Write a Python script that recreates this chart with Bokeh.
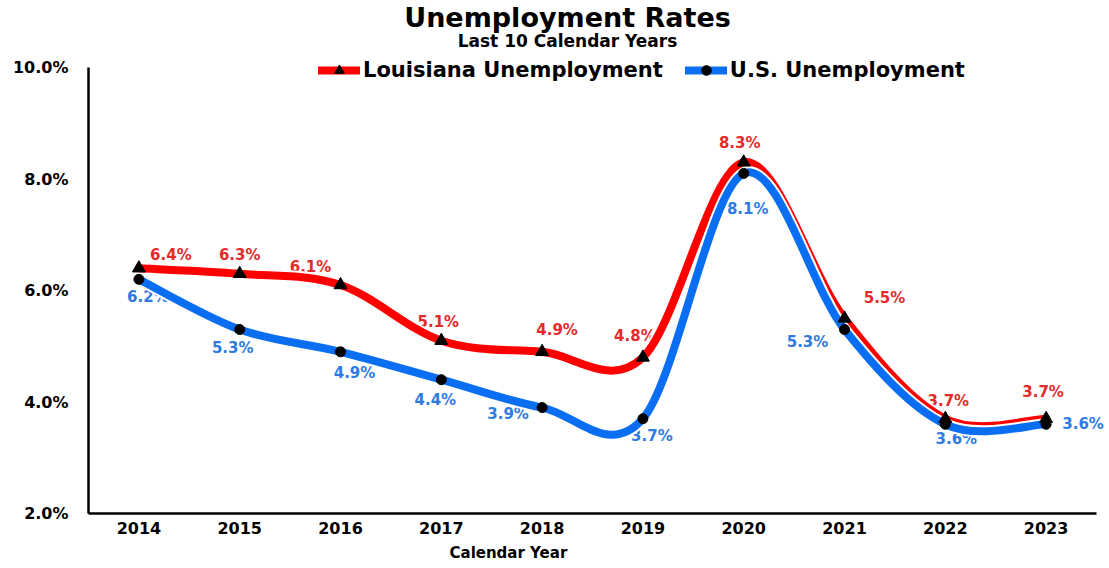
import numpy as np
from bokeh.plotting import figure
from bokeh.models import (Range1d, FixedTicker, Label, Legend, LegendItem,
                          ColumnDataSource, Title)
from bokeh.embed import file_html
from bokeh.resources import INLINE
from bokeh.core.properties import value

# ---------------- data ----------------
years = ["2014", "2015", "2016", "2017", "2018", "2019", "2020", "2021", "2022", "2023"]
louisiana = [6.4, 6.3, 6.1, 5.1, 4.9, 4.8, 8.3, 5.5, 3.7, 3.7]
us = [6.2, 5.3, 4.9, 4.4, 3.9, 3.7, 8.1, 5.3, 3.6, 3.6]
y_ticks = [2, 4, 6, 8, 10]
y_tick_labels = ["2.0%", "4.0%", "6.0%", "8.0%", "10.0%"]

# label placement (pixel offsets from each point)
la_label_dx = [32, 0, -30, -3, 15, -8, -4, 40, 3, -3]
la_label_dy = [-13, -19, -18, -19, -22, -21, -19, -20, -18, -27]
us_label_dx = [9, -7, 14, -6, -34, 9, 4, -37, 11, 37]
us_label_dy = [18, 18, 21, 20, 6, 17, 36, 12, 15, 0]

FONT = "DejaVu Sans"
RED = "#FF0000"
BLUE = "#0A6EF2"
RED_TXT = "#E42A2A"
BLUE_TXT = "#2E7BE3"

# layout (pixels)
LEFT = 88
FRAME_W = 1021
FRAME_H = 513
AXIS_W = 1008          # length of the drawn x axis (10 categories)
PLOT_H = 446           # length of the drawn y axis (2%..10%)


def smooth_segments(vals):
    """Cubic Bezier segments (Catmull-Rom style) between successive data points."""
    ys = np.asarray(vals, dtype=float)
    n = len(ys)
    xs = np.arange(n, dtype=float)
    px = np.concatenate([[xs[0]], xs, [xs[-1]]])
    py = np.concatenate([[ys[0]], ys, [ys[-1]]])
    i = np.arange(n - 1)
    return dict(
        x0=px[i + 1], y0=py[i + 1], x1=px[i + 2], y1=py[i + 2],
        cx0=px[i + 1] + (px[i + 2] - px[i]) / 6.0,
        cy0=py[i + 1] + (py[i + 2] - py[i]) / 6.0,
        cx1=px[i + 2] - (px[i + 3] - px[i + 1]) / 6.0,
        cy1=py[i + 2] - (py[i + 3] - py[i + 1]) / 6.0,
    )


x_idx = list(range(len(years)))
n = len(years)
x_end = -0.5 + n * FRAME_W / AXIS_W
y_end = 2 + 8 * FRAME_H / PLOT_H

p = figure(frame_width=FRAME_W, frame_height=FRAME_H,
           min_border_left=LEFT, min_border_right=0,
           min_border_top=0, min_border_bottom=55,
           x_range=Range1d(-0.5, x_end), y_range=Range1d(2, y_end),
           output_backend="svg", toolbar_location=None)
p.title.text = ""
p.outline_line_color = None
p.grid.visible = False
p.background_fill_color = "white"
p.border_fill_color = "white"

# data labels (drawn first, so lines pass over them as in the original)
la_lab = ColumnDataSource(dict(x=x_idx, y=louisiana, t=[f"{v:.1f}%" for v in louisiana],
                               dx=la_label_dx, dy=la_label_dy))
us_lab = ColumnDataSource(dict(x=x_idx, y=us, t=[f"{v:.1f}%" for v in us],
                               dx=us_label_dx, dy=us_label_dy))
for src, col in ((la_lab, RED_TXT), (us_lab, BLUE_TXT)):
    p.text(x="x", y="y", text="t", x_offset="dx", y_offset="dy", source=src,
           text_color=col, text_font=value(FONT), text_font_style="bold",
           text_font_size="15px", text_align="center", text_baseline="middle")

bz = dict(x0="x0", y0="y0", x1="x1", y1="y1", cx0="cx0", cy0="cy0", cx1="cx1", cy1="cy1")

la_src = ColumnDataSource(smooth_segments(louisiana))
us_src = ColumnDataSource(smooth_segments(us))

p.bezier(source=la_src, line_color="white", line_width=12, line_cap="round", **bz)
la_line = p.bezier(source=la_src, line_color=RED, line_width=8, line_cap="round", **bz)
p.bezier(source=us_src, line_color="white", line_width=12, line_cap="round", **bz)
us_line = p.bezier(source=us_src, line_color=BLUE, line_width=8, line_cap="round", **bz)

la_pts = p.scatter(x=x_idx, y=louisiana, marker="triangle", size=13, color="black")
us_pts = p.scatter(x=x_idx, y=us, marker="circle", size=10, color="black")

# axes
for ax in (p.xaxis[0], p.yaxis[0]):
    ax.axis_line_color = "black"
    ax.axis_line_width = 2.5
    ax.major_tick_line_color = None
    ax.minor_tick_line_color = None
    ax.major_tick_out = 0
    ax.major_tick_in = 0
    ax.major_label_text_font = FONT
    ax.major_label_text_font_style = "bold"
    ax.major_label_text_font_size = "16px"
    ax.major_label_text_color = "black"

p.xaxis.ticker = FixedTicker(ticks=x_idx)
p.xaxis.bounds = (-0.5, n - 0.5)
p.xaxis.major_label_overrides = {i: y for i, y in zip(x_idx, years)}
p.xaxis.major_label_standoff = 8
p.yaxis.ticker = FixedTicker(ticks=y_ticks)
p.yaxis.bounds = (y_ticks[0], y_ticks[-1])
p.yaxis.major_label_overrides = {t: l for t, l in zip(y_ticks, y_tick_labels)}
p.yaxis.major_label_standoff = 20

# titles (inside the tall frame, above the 10% line)
p.add_layout(Label(x=479, y=496, x_units="screen", y_units="screen",
                   text="Unemployment Rates", text_font=FONT, text_font_style="bold",
                   text_font_size="27px", text_align="center", text_baseline="middle",
                   text_color="black"))
p.add_layout(Label(x=479, y=473, x_units="screen", y_units="screen",
                   text="Last 10 Calendar Years", text_font=FONT, text_font_style="bold",
                   text_font_size="17px", text_align="center", text_baseline="middle",
                   text_color="black"))

p.add_layout(Title(text="Calendar Year", align="left", offset=449 - LEFT,
                   text_font=FONT, text_font_style="bold", text_font_size="15px",
                   text_color="black", standoff=10), "below")

legend = Legend(items=[LegendItem(label="Louisiana Unemployment", renderers=[la_line, la_pts]),
                       LegendItem(label="U.S. Unemployment", renderers=[us_line, us_pts])],
                orientation="horizontal", location=(230, 431),
                glyph_width=42, glyph_height=24, label_standoff=3, spacing=22,
                padding=0, margin=0, border_line_alpha=0, background_fill_alpha=0,
                label_text_font=FONT, label_text_font_style="bold",
                label_text_font_size="21px", label_text_color="black")
p.add_layout(legend)

open("out.html", "w").write(file_html(p, INLINE))
